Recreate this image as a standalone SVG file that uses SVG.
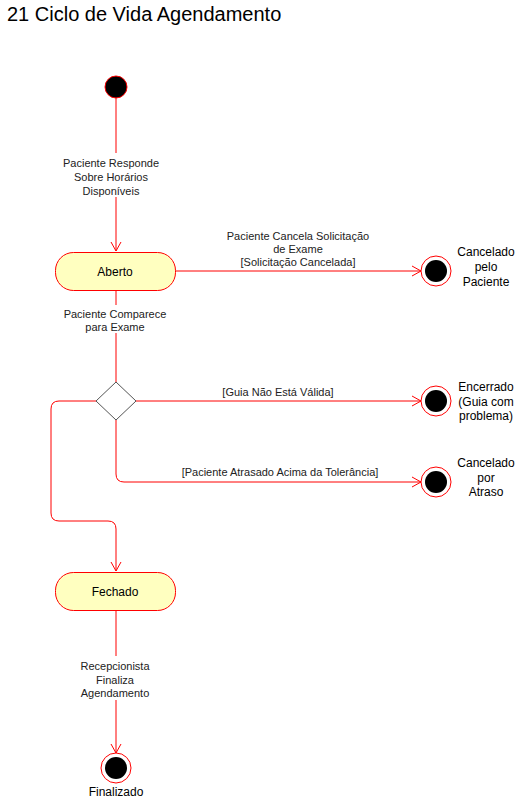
<svg xmlns="http://www.w3.org/2000/svg" width="521" height="801" viewBox="0 0 521 801">
  <defs>
    <marker id="arrow" viewBox="0 0 10 12" refX="10" refY="6" markerWidth="10" markerHeight="12" markerUnits="userSpaceOnUse" orient="auto">
      <path d="M1,1 L10,6 L1,11" fill="none" stroke="#ff0000" stroke-width="1"/>
    </marker>
  </defs>
  <style>
    text { font-family: "Liberation Sans", Arial, sans-serif; fill: #000; }
    .title { font-size: 20px; }
    .lbl { font-size: 11px; text-anchor: middle; fill: #222; }
    .st { font-size: 12px; text-anchor: middle; }
    .edge { fill: none; stroke: #ff0000; stroke-width: 1; }
    .state { fill: #ffffc0; stroke: #ff0000; stroke-width: 1; }
    .ring { fill: #fff; stroke: #ff0000; stroke-width: 1; }
    .dot { fill: #000; }
    .lblbg { fill: #fff; }
  </style>
  <rect width="521" height="801" fill="#fff"/>
  <text class="title" x="7" y="21">21 Ciclo de Vida Agendamento</text>

  <g id="connectors">
    <path class="edge" d="M116,98 V251" marker-end="url(#arrow)"/>
    <path class="edge" d="M175,271 H421" marker-end="url(#arrow)"/>
    <path class="edge" d="M116,290 V382"/>
    <path class="edge" d="M136,401 H421" marker-end="url(#arrow)"/>
    <path class="edge" d="M116,420 V474 Q116,482 124,482 H421" marker-end="url(#arrow)"/>
    <path class="edge" d="M96,401 H59 Q51,401 51,409 V513 Q51,521 59,521 H108 Q116,521 116,529 V571" marker-end="url(#arrow)"/>
    <path class="edge" d="M116,610 V753" marker-end="url(#arrow)"/>

    <rect class="lblbg" x="60" y="153" width="104" height="44"/>
    <text class="lbl" x="111" y="167">Paciente Responde</text>
    <text class="lbl" x="111" y="181">Sobre Horários</text>
    <text class="lbl" x="111" y="195">Disponíveis</text>

    <text class="lbl" x="298" y="240">Paciente Cancela Solicitação</text>
    <text class="lbl" x="298" y="253">de Exame</text>
    <text class="lbl" x="298" y="266">[Solicitação Cancelada]</text>

    <rect class="lblbg" x="58" y="305" width="116" height="28"/>
    <text class="lbl" x="115" y="318">Paciente Comparece</text>
    <text class="lbl" x="115" y="331">para Exame</text>

    <text class="lbl" x="278" y="396">[Guia Não Está Válida]</text>
    <text class="lbl" x="280" y="476">[Paciente Atrasado Acima da Tolerância]</text>

    <rect class="lblbg" x="76" y="656" width="80" height="44"/>
    <text class="lbl" x="115" y="670">Recepcionista</text>
    <text class="lbl" x="115" y="684">Finaliza</text>
    <text class="lbl" x="115" y="697">Agendamento</text>
  </g>

  <g id="inicio">
    <circle cx="116" cy="87" r="11" fill="#000" stroke="#ff0000" stroke-width="1"/>
  </g>

  <g id="aberto">
    <rect class="state" x="55.5" y="252.5" width="120" height="38" rx="18" ry="18"/>
    <text class="st" x="115" y="275.5">Aberto</text>
  </g>

  <g id="decisao">
    <polygon points="116,382 136,401 116,420 96,401" fill="#fff" stroke="#555" stroke-width="1"/>
  </g>

  <g id="fechado">
    <rect class="state" x="55.5" y="572.5" width="120" height="38" rx="18" ry="18"/>
    <text class="st" x="115" y="595.5">Fechado</text>
  </g>

  <g id="cancelado-pelo-paciente">
    <circle class="ring" cx="436" cy="271" r="15"/>
    <circle class="dot" cx="436" cy="271" r="11"/>
    <text class="st" x="486" y="256">Cancelado</text>
    <text class="st" x="486" y="271">pelo</text>
    <text class="st" x="486" y="286">Paciente</text>
  </g>

  <g id="encerrado">
    <circle class="ring" cx="436" cy="401" r="15"/>
    <circle class="dot" cx="436" cy="401" r="11"/>
    <text class="st" x="486" y="391">Encerrado</text>
    <text class="st" x="486" y="406">(Guia com</text>
    <text class="st" x="486" y="420">problema)</text>
  </g>

  <g id="cancelado-por-atraso">
    <circle class="ring" cx="436" cy="482" r="15"/>
    <circle class="dot" cx="436" cy="482" r="11"/>
    <text class="st" x="486" y="467">Cancelado</text>
    <text class="st" x="486" y="482">por</text>
    <text class="st" x="486" y="496">Atraso</text>
  </g>

  <g id="finalizado">
    <circle class="ring" cx="116" cy="768" r="15"/>
    <circle class="dot" cx="116" cy="768" r="11"/>
    <text class="st" x="116" y="796">Finalizado</text>
  </g>
</svg>
